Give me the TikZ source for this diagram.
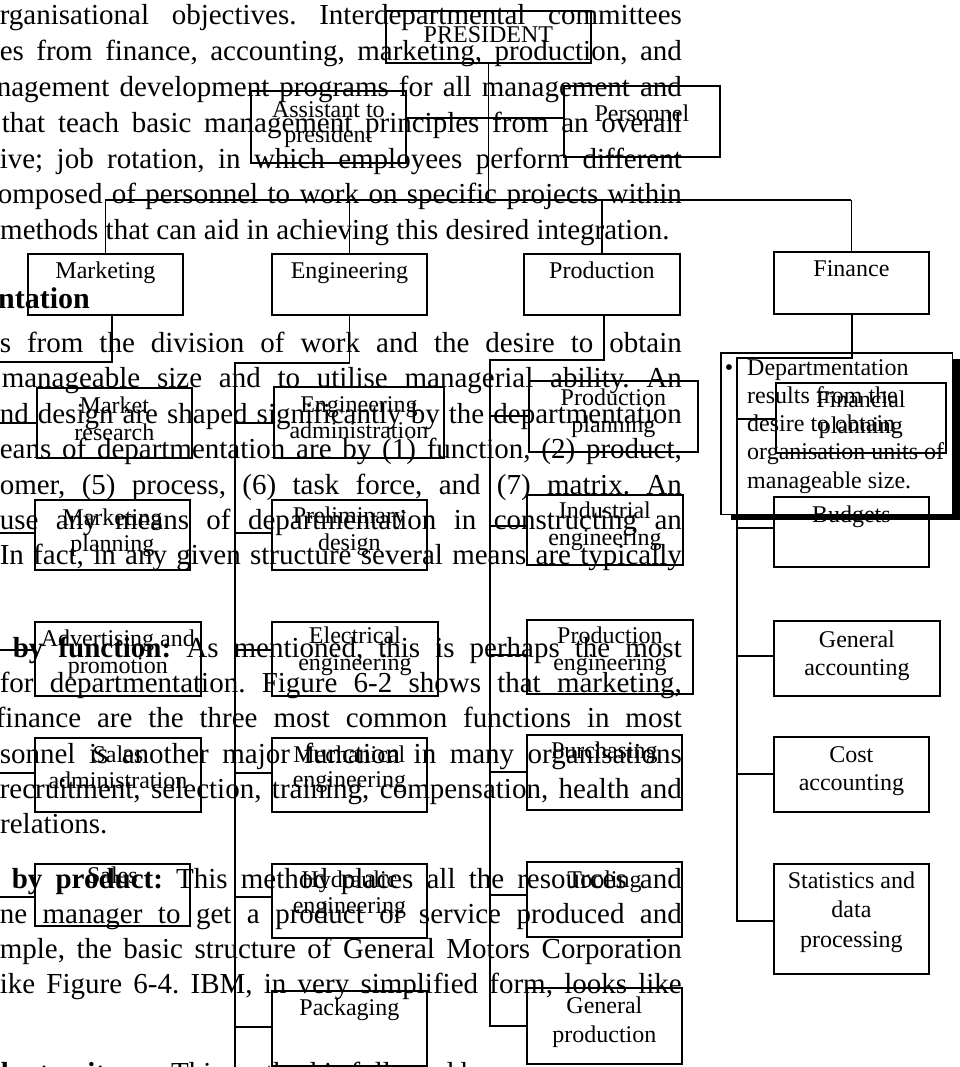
\documentclass[tikz,border=0pt]{standalone}
\usepackage{fontspec}
\setmainfont{Liberation Serif}
\usetikzlibrary{calc}

% type sizes (1pt = one unit of the drawing)
\newcommand\bodyfont{\fontsize{29}{35.8}\selectfont\frenchspacing}
\newcommand\headfont{\fontsize{30}{36}\selectfont\bfseries}
\newcommand\chartfont{\fontsize{24}{27}\selectfont\frenchspacing}

% one centred line of a chart label
\newcommand\ctrline[1]{\hbox to 0pt{\hss#1\hss}}
% justified text line that ends at the right margin (x = 682)
\newcommand\jline[4]{\node[body, anchor=base east] (#1) at (682,#2) {\makebox[#3pt][s]{#4}};}
% ragged text line starting at a given x
\newcommand\rline[4]{\node[body, anchor=base west] (#1) at (#3,#2) {#4};}
% chart box: name, left, top, width, height
\newcommand\orgbox[5]{\node[obox, minimum width=#4pt, minimum height=#5pt] (#1) at (#2,#3) {};}
% chart label: name, box, first baseline, line gap, lines
\newcommand\lab[5]{\node[lbl] (#1) at (#2.north |- 0,#3) {\vtop{\baselineskip=#4pt\lineskiplimit=-100pt\lineskip=0pt #5}};}
% branch from a spine to a box
\newcommand\branch[3]{\draw[con] (#1 |- 0,#3) -- (#2.west |- 0,#3);}

\begin{document}
\begin{tikzpicture}[x=1pt, y=-1pt,
  body/.style={inner sep=0pt, font=\bodyfont},
  head/.style={inner sep=0pt, font=\headfont},
  obox/.style={draw, line width=1.8pt, inner sep=0pt, anchor=north west},
  lbl/.style={inner sep=0pt, anchor=base, font=\chartfont},
  con/.style={line width=1.8pt},
  cotext/.style={inner sep=0pt, font=\chartfont}]

\useasboundingbox (0,0) rectangle (960,1067);

% ---------------- running text of the page ----------------
\jline{b1}{25}{682}{rganisational objectives. Interdepartmental committees}
\jline{b2}{60.8}{682}{es from finance, accounting, marketing, production, and}
\jline{b3}{96.6}{685}{nagement development programs for all management and}
\jline{b4}{132.4}{680}{that teach basic management principles from an overall}
\jline{b5}{168.2}{682}{ive; job rotation, in which employees perform different}
\jline{b6}{204}{684}{omposed of personnel to work on specific projects within}
\rline{b7}{239.8}{0}{methods that can aid in achieving this desired integration.}

\node[head, anchor=base west] (hd) at (-2,308) {ntation};

\jline{c1}{352}{682}{s from the division of work and the desire to obtain}
\jline{c2}{387.5}{680}{manageable size and to utilise managerial ability. An}
\jline{c3}{423}{682}{nd design are shaped significantly by the departmentation}
\jline{c4}{458.5}{682}{eans of departmentation are by (1) function, (2) product,}
\jline{c5}{494}{682}{omer, (5) process, (6) task force, and (7) matrix. An}
\jline{c6}{529.5}{682}{use any means of departmentation in constructing an}
\jline{c7}{564}{682}{In fact, in any given structure several means are typically}

\jline{d1}{657}{669}{{\bfseries by function:} As mentioned, this is perhaps the most}
\jline{d2}{692}{682}{for departmentation. Figure 6-2 shows that marketing,}
\jline{d3}{727.5}{686}{finance are the three most common functions in most}
\jline{d4}{763}{682}{sonnel is another major function in many organisations}
\jline{d5}{798}{682}{recruitment, selection, training, compensation, health and}
\rline{d6}{833}{0}{relations.}

\jline{e1}{888}{670}{{\bfseries by product:} This method places all the resources and}
\jline{e2}{923}{682}{ne manager to get a product or service produced and}
\jline{e3}{958}{682}{mple, the basic structure of General Motors Corporation}
\jline{e4}{993}{682}{ike Figure 6-4. IBM, in very simplified form, looks like}

\rline{f1}{1082}{1}{{\bfseries by territory:} \ This method is followed by}

% ---------------- callout with drop shadow ----------------
\path node[anchor=north west, minimum width=231pt, minimum height=161pt, inner sep=0pt] (co) at (721,353) {};
\fill[black] ($(co.north west)+(10,6)$) rectangle ($(co.south east)+(10,6)$);
\draw[line width=1.4pt, fill=white] (co.north west) rectangle (co.south east);
\node[cotext, anchor=base] (co-b) at (729,375) {•};
\node[cotext, anchor=base west] (co-t) at (747,375) {\vtop{\baselineskip=28.3pt
  \hbox{Departmentation}\hbox{results from the}\hbox{desire to obtain}
  \hbox{organisation units of}\hbox{manageable size.}}};

% ---------------- organisation chart ----------------
\orgbox{pres}{385}{10}{205}{52}
\orgbox{asst}{250}{90}{155}{72}
\orgbox{pers}{563}{85}{156}{71}

\orgbox{mkt}{27}{253}{155}{61}
\orgbox{eng}{271}{253}{155}{61}
\orgbox{prod}{523}{253}{156}{61}
\orgbox{fin}{773}{251}{155}{62}

\orgbox{mres}{36}{387}{155}{70}
\orgbox{mplan}{34}{499}{155}{70}
\orgbox{adv}{34}{621}{166}{74}
\orgbox{salad}{34}{737}{166}{74}
\orgbox{sales}{34}{863}{155}{62}

\orgbox{eadm}{273}{386}{170}{71}
\orgbox{prel}{271}{499}{155}{70}
\orgbox{elec}{271}{621}{166}{74}
\orgbox{mech}{271}{737}{155}{74}
\orgbox{hyd}{271}{863}{155}{74}
\orgbox{pack}{271}{990}{155}{75}

\orgbox{pplan}{528}{380}{169}{71}
\orgbox{ind}{526}{494}{156}{70}
\orgbox{peng}{526}{619}{166}{74}
\orgbox{purch}{526}{734}{155}{75}
\orgbox{tool}{526}{861}{155}{75}
\orgbox{gprod}{526}{987}{155}{76}

\orgbox{fplan}{775}{382}{170}{70}
\orgbox{budg}{773}{496}{155}{70}
\orgbox{gacc}{773}{620}{166}{75}
\orgbox{cacc}{773}{736}{155}{75}
\orgbox{stat}{773}{863}{155}{110}

\lab{pres-l}{pres}{43}{27}{\ctrline{PRESIDENT}}
\lab{asst-l}{asst}{118}{25}{\ctrline{Assistant to}\ctrline{president}}
\lab{pers-l}{pers}{122}{27}{\ctrline{Personnel}}
\lab{mkt-l}{mkt}{278}{27}{\ctrline{Marketing}}
\lab{eng-l}{eng}{278}{27}{\ctrline{Engineering}}
\lab{prod-l}{prod}{278}{27}{\ctrline{Production}}
\lab{fin-l}{fin}{276}{27}{\ctrline{Finance}}

\lab{mres-l}{mres}{413}{27}{\ctrline{Market}\ctrline{research}}
\lab{mplan-l}{mplan}{525}{26}{\ctrline{Marketing}\ctrline{planning}}
\lab{adv-l}{adv}{646}{27}{\ctrline{Advertising and}\ctrline{promotion}}
\lab{salad-l}{salad}{762}{26}{\ctrline{Sales}\ctrline{administration}}
\lab{sales-l}{sales}{883}{27}{\ctrline{Sales}}

\lab{eadm-l}{eadm}{412}{26}{\ctrline{Engineering}\ctrline{administration}}
\lab{prel-l}{prel}{523}{27}{\ctrline{Preliminary}\ctrline{design}}
\lab{elec-l}{elec}{643}{27}{\ctrline{Electrical}\ctrline{engineering}}
\lab{mech-l}{mech}{762}{25}{\ctrline{Mechanical}\ctrline{engineering}}
\lab{hyd-l}{hyd}{887}{26}{\ctrline{Hydraulic}\ctrline{engineering}}
\lab{pack-l}{pack}{1015}{27}{\ctrline{Packaging}}

\lab{pplan-l}{pplan}{405}{27}{\ctrline{Production}\ctrline{planning}}
\lab{ind-l}{ind}{518}{27}{\ctrline{Industrial}\ctrline{engineering}}
\lab{peng-l}{peng}{643}{27}{\ctrline{Production}\ctrline{engineering}}
\lab{purch-l}{purch}{758}{27}{\ctrline{Purchasing}}
\lab{tool-l}{tool}{887}{27}{\ctrline{Tooling}}
\lab{gprod-l}{gprod}{1013}{29}{\ctrline{General}\ctrline{production}}

\lab{fplan-l}{fplan}{407}{26}{\ctrline{Financial}\ctrline{planning}}
\lab{budg-l}{budg}{522}{27}{\ctrline{Budgets}}
\lab{gacc-l}{gacc}{647}{28}{\ctrline{General}\ctrline{accounting}}
\lab{cacc-l}{cacc}{762}{28}{\ctrline{Cost}\ctrline{accounting}}
\lab{stat-l}{stat}{888}{29.5}{\ctrline{Statistics and}\ctrline{data}\ctrline{processing}}

% top of the chart
\coordinate (bus) at (0,200);
\draw[con] (pres.south) -- (pres.south |- bus);
\draw[con] (mkt.north |- bus) -- (fin.north |- bus);
\foreach \d in {mkt,eng,prod,fin} \draw[con] (\d.north) -- (\d.north |- bus);
\draw[con] (asst.east |- 0,118) -- (pers.west |- 0,118);

% spines of the four departments
\coordinate (mspine) at (-20,0);
\coordinate (espine) at (235,0);
\coordinate (pspine) at (490,0);
\coordinate (fspine) at (737,0);

\draw[con] (mkt.south -| 112,0) |- (mspine |- 0,362);
\draw[con] (eng.south) |- (espine |- 0,363) -- (espine |- 0,1090);
\draw[con] (prod.south -| 604,0) |- (pspine |- 0,360) |- (gprod.west |- 0,1026);
\draw[con] (fin.south -| 852,0) |- (fspine |- 0,358) |- (stat.west |- 0,921);

\branch{mspine}{mres}{423}
\branch{mspine}{mplan}{533}
\branch{mspine}{adv}{650}
\branch{mspine}{salad}{773}
\branch{mspine}{sales}{897}

\branch{espine}{eadm}{423}
\branch{espine}{prel}{533}
\branch{espine}{elec}{650}
\branch{espine}{mech}{773}
\branch{espine}{hyd}{897}
\branch{espine}{pack}{1027}

\branch{pspine}{pplan}{416}
\branch{pspine}{ind}{526}
\branch{pspine}{peng}{655}
\branch{pspine}{purch}{772}
\branch{pspine}{tool}{895}

\branch{fspine}{fplan}{419}
\branch{fspine}{budg}{528}
\branch{fspine}{gacc}{656}
\branch{fspine}{cacc}{774}
\end{tikzpicture}
\end{document}
